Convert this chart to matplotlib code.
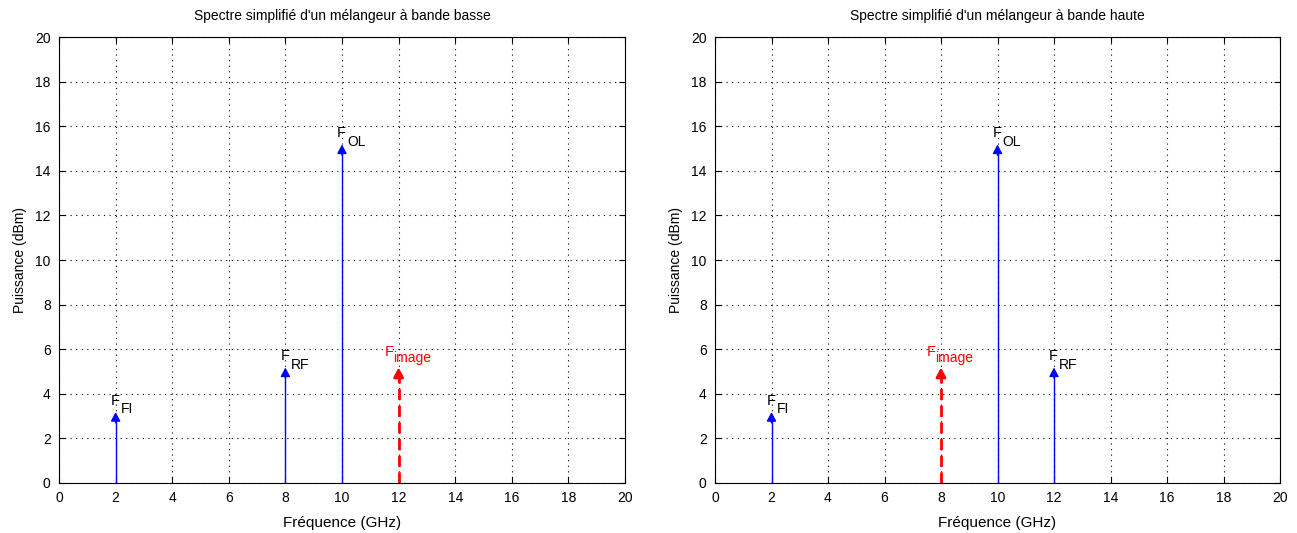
import matplotlib
matplotlib.use("Agg")
import matplotlib.pyplot as plt

plt.rcParams['font.family'] = ['Liberation Sans', 'DejaVu Sans']
plt.rcParams['font.size'] = 9

# data
titles = ["Spectre simplifié d'un mélangeur à bande basse",
          "Spectre simplifié d'un mélangeur à bande haute"]
freq_basse = [2, 8, 10, 12]
freq_haute = [2, 12, 10, 8]
puissance = [3, 5, 15, 5]
noms = ['FI', 'RF', 'OL', 'image']
couleurs = ['blue', 'blue', 'blue', 'red']
couleurs_texte = ['black', 'black', 'black', 'red']
styles = ['-', '-', '-', (0, (4, 2))]
largeurs = [1.0, 1.0, 1.0, 2.0]

fig = plt.figure(figsize=(12.97, 5.33), dpi=100)
positions = [[59/1297, 50/533, 566/1297, 446/533],
             [715/1297, 50/533, 565/1297, 446/533]]

for pos, title, freqs in zip(positions, titles, [freq_basse, freq_haute]):
    ax = fig.add_axes(pos)
    ax.set_axisbelow(True)
    for f, p, n, c, ct, s, lw in zip(freqs, puissance, noms, couleurs,
                                     couleurs_texte, styles, largeurs):
        ax.plot([f, f], [0, p], color=c, lw=lw, linestyle=s, zorder=3)
        ax.annotate('', xy=(f, p + 0.18), xytext=(f, p - 0.3),
                    arrowprops=dict(arrowstyle='-|>,head_length=0.6,head_width=0.32',
                                    color=c, lw=lw,
                                    shrinkA=0, shrinkB=0), zorder=4)
        if n == 'image':
            ax.text(f - 0.5, p + 0.7, 'F', color=ct, fontsize=10.5,
                    ha='left', va='baseline')
            ax.text(f - 0.2, p + 0.43, n, color=ct, fontsize=10,
                    ha='left', va='baseline')
        else:
            ax.text(f - 0.18, p + 0.5, 'F', color=ct, fontsize=10.5,
                    ha='left', va='baseline')
            ax.text(f + 0.18, p + 0.13, n, color=ct, fontsize=10,
                    ha='left', va='baseline')
    ax.set_xlim(0, 20)
    ax.set_ylim(0, 20)
    ax.set_xticks(range(0, 21, 2))
    ax.set_yticks(range(0, 21, 2))
    ax.grid(True, color='black', linestyle=(0, (1, 4)), linewidth=0.8)
    ax.tick_params(direction='in', top=True, right=True, length=4, pad=6,
                   labelsize=10)
    ax.set_xlabel('Fréquence (GHz)', fontsize=11, labelpad=8)
    ax.set_ylabel('Puissance (dBm)', fontsize=10, labelpad=6)
    ax.set_title(title, fontsize=10, pad=12)

fig.savefig('out.png', dpi=100)
